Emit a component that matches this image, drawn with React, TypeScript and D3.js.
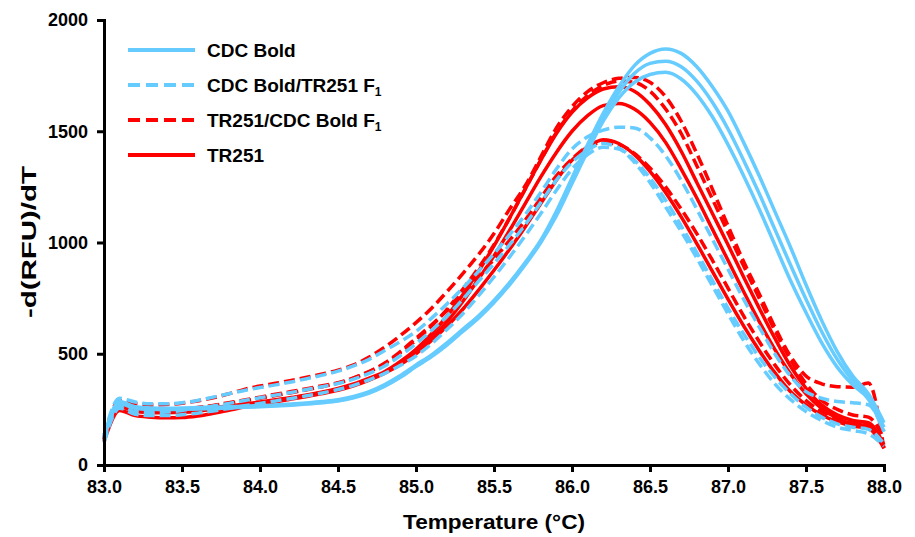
import React, { useEffect, useRef } from 'react';
import * as d3 from 'd3';

// melt curve samples, 83.0 .. 88.0 °C every 0.1
const temps = [
  83.0, 83.1, 83.2, 83.3, 83.4, 83.5, 83.6, 83.7, 83.8, 83.9,
  84.0, 84.1, 84.2, 84.3, 84.4, 84.5, 84.6, 84.7, 84.8, 84.9,
  85.0, 85.1, 85.2, 85.3, 85.4, 85.5, 85.6, 85.7, 85.8, 85.9,
  86.0, 86.1, 86.2, 86.3, 86.4, 86.5, 86.6, 86.7, 86.8, 86.9,
  87.0, 87.1, 87.2, 87.3, 87.4, 87.5, 87.6, 87.7, 87.8, 87.9,
  88.0,
];

// CDC Bold (3 reps)
const cdcBold1 = [130, 285, 262, 256, 255, 256, 258, 260, 262, 264, 267, 270, 274, 279, 285, 293, 308, 330, 362, 402, 450, 495, 550, 610, 670, 740, 820, 910, 1010, 1140, 1290, 1440, 1580, 1700, 1795, 1850, 1870, 1850, 1790, 1700, 1590, 1450, 1300, 1140, 980, 810, 650, 510, 400, 320, 190];
const cdcBold2 = [125, 280, 258, 252, 251, 252, 254, 256, 258, 261, 264, 267, 271, 276, 282, 290, 304, 326, 357, 397, 445, 490, 545, 605, 665, 735, 815, 905, 1005, 1130, 1275, 1425, 1560, 1675, 1760, 1805, 1815, 1790, 1725, 1630, 1510, 1370, 1220, 1060, 900, 745, 600, 475, 380, 305, 170];
const cdcBold3 = [120, 275, 255, 250, 249, 250, 252, 254, 256, 259, 262, 265, 269, 274, 280, 288, 302, 323, 354, 394, 442, 487, 540, 600, 660, 730, 810, 900, 1000, 1120, 1265, 1410, 1545, 1650, 1720, 1755, 1765, 1735, 1665, 1565, 1440, 1300, 1150, 990, 830, 685, 550, 440, 360, 295, 150];

// CDC Bold/TR251 F1
const cdcTrF1a = [135, 300, 283, 275, 275, 280, 290, 305, 320, 335, 348, 360, 373, 388, 404, 422, 445, 475, 515, 555, 600, 660, 725, 795, 870, 950, 1035, 1125, 1225, 1330, 1420, 1475, 1505, 1518, 1515, 1470, 1390, 1280, 1150, 1015, 880, 745, 620, 500, 400, 330, 300, 285, 280, 270, 150];
const cdcTrF1b = [110, 265, 240, 235, 238, 245, 255, 265, 277, 290, 302, 314, 326, 339, 352, 366, 386, 412, 445, 492, 545, 605, 670, 745, 825, 905, 990, 1080, 1180, 1280, 1360, 1415, 1445, 1425, 1370, 1290, 1190, 1075, 955, 830, 705, 590, 485, 395, 320, 260, 215, 185, 170, 160, 95];
const cdcTrF1c = [100, 255, 228, 222, 222, 226, 233, 243, 254, 266, 277, 288, 299, 311, 324, 339, 358, 383, 412, 448, 490, 545, 610, 680, 760, 845, 935, 1030, 1130, 1235, 1330, 1395, 1428, 1420, 1360, 1270, 1160, 1050, 930, 805, 680, 560, 455, 365, 295, 240, 200, 170, 155, 140, 85];

// TR251/CDC Bold F1
const trCdcF1a = [125, 290, 275, 270, 272, 278, 288, 302, 320, 340, 355, 367, 380, 394, 409, 426, 450, 485, 530, 582, 640, 705, 780, 860, 945, 1040, 1150, 1255, 1385, 1515, 1610, 1678, 1718, 1738, 1742, 1720, 1655, 1545, 1400, 1240, 1075, 915, 770, 620, 490, 400, 365, 352, 350, 368, 70];
const trCdcF1b = [115, 270, 250, 245, 245, 250, 258, 268, 280, 292, 305, 318, 330, 343, 356, 370, 392, 420, 455, 505, 560, 625, 700, 790, 885, 990, 1110, 1240, 1370, 1495, 1590, 1660, 1705, 1725, 1720, 1680, 1600, 1490, 1345, 1195, 1045, 895, 750, 605, 475, 365, 290, 250, 225, 215, 120];
const trCdcF1c = [112, 265, 248, 245, 246, 250, 257, 266, 277, 288, 300, 312, 325, 338, 352, 368, 390, 420, 458, 510, 570, 630, 695, 765, 845, 925, 1010, 1100, 1200, 1300, 1375, 1430, 1448, 1440, 1400, 1335, 1250, 1150, 1040, 920, 795, 670, 555, 450, 360, 290, 240, 210, 190, 178, 80];

// TR251
const tr251a = [120, 275, 255, 250, 250, 250, 253, 258, 265, 274, 283, 293, 303, 315, 328, 344, 364, 390, 420, 465, 520, 590, 670, 765, 870, 985, 1110, 1240, 1370, 1490, 1585, 1650, 1690, 1700, 1680, 1620, 1530, 1410, 1270, 1130, 990, 845, 705, 570, 445, 345, 270, 225, 200, 190, 90];
const tr251b = [115, 262, 240, 235, 235, 237, 242, 250, 260, 270, 280, 290, 300, 312, 325, 340, 360, 385, 415, 455, 505, 570, 645, 735, 835, 940, 1055, 1175, 1295, 1405, 1500, 1570, 1615, 1625, 1600, 1540, 1450, 1330, 1200, 1060, 920, 780, 645, 520, 410, 320, 255, 210, 185, 175, 80];
const tr251c = [105, 245, 222, 215, 212, 213, 220, 232, 246, 260, 272, 284, 296, 308, 321, 336, 356, 382, 413, 452, 500, 560, 625, 700, 785, 875, 970, 1070, 1175, 1280, 1370, 1430, 1462, 1445, 1395, 1320, 1225, 1115, 995, 870, 745, 625, 515, 415, 330, 270, 225, 195, 175, 165, 75];

const xTicks = [83.0, 83.5, 84.0, 84.5, 85.0, 85.5, 86.0, 86.5, 87.0, 87.5, 88.0];
const yTicks = [0, 500, 1000, 1500, 2000];

const legendNames = ['CDC Bold', 'CDC Bold/TR251 F', 'TR251/CDC Bold F', 'TR251'];

const App = () => {
  const chartRef = useRef<SVGSVGElement>(null);

  useEffect(() => {
    const svg = d3.select(chartRef.current);
    svg.selectAll('*').remove();

    const font = "'Liberation Sans', Arial, sans-serif";
    const blue = '#66CCFF';
    const red = '#FF0000';

    const x = d3.scaleLinear().domain([83, 88]).range([104, 884]);
    const y = d3.scaleLinear().domain([0, 2000]).range([465, 20]);

    const line = d3.line<number>()
      .x((d, i) => x(temps[i]))
      .y(d => y(d))
      .curve(d3.curveMonotoneX);

    // legend order -> style
    const styles = [
      { color: blue, dash: null },
      { color: blue, dash: '11 5' },
      { color: red, dash: '11 5' },
      { color: red, dash: null },
    ];

    // drawing order: red solid, red dashed, blue dashed, blue solid
    const layers = [
      { s: styles[3], curves: [tr251a, tr251b, tr251c] },
      { s: styles[2], curves: [trCdcF1a, trCdcF1b, trCdcF1c] },
      { s: styles[1], curves: [cdcTrF1a, cdcTrF1b, cdcTrF1c] },
      { s: styles[0], curves: [cdcBold1, cdcBold2, cdcBold3] },
    ];

    const plot = svg.append('g');
    layers.forEach(layer => {
      layer.curves.forEach(c => {
        plot.append('path')
          .datum(c)
          .attr('fill', 'none')
          .attr('stroke', layer.s.color)
          .attr('stroke-width', 3.5)
          .attr('stroke-dasharray', layer.s.dash)
          .attr('stroke-linejoin', 'round')
          .attr('d', line);
      });
    });

    // axes
    const xAxis = svg.append('g')
      .attr('transform', 'translate(0,465)')
      .call(d3.axisBottom(x).tickValues(xTicks).tickFormat(d3.format('.1f'))
        .tickSize(7).tickSizeOuter(0).tickPadding(8));
    const yAxis = svg.append('g')
      .attr('transform', 'translate(104,0)')
      .call(d3.axisLeft(y).tickValues(yTicks).tickFormat(d3.format('d'))
        .tickSize(7).tickSizeOuter(0).tickPadding(9));

    [xAxis, yAxis].forEach(g => {
      g.attr('font-size', 18).attr('font-family', font).attr('font-weight', 'bold');
      g.select('.domain').attr('stroke-width', 3).attr('stroke-linecap', 'square');
      g.selectAll('.tick line').attr('stroke-width', 3);
      g.selectAll('.tick text').attr('fill', '#000');
    });

    // axis titles
    svg.append('text')
      .attr('x', 494).attr('y', 529)
      .attr('text-anchor', 'middle')
      .attr('font-family', font).attr('font-weight', 'bold').attr('font-size', 20)
      .attr('textLength', 182).attr('lengthAdjust', 'spacingAndGlyphs')
      .text('Temperature (°C)');

    svg.append('text')
      .attr('transform', 'translate(36,242) rotate(-90)')
      .attr('text-anchor', 'middle')
      .attr('font-family', font).attr('font-weight', 'bold').attr('font-size', 21)
      .attr('textLength', 152).attr('lengthAdjust', 'spacingAndGlyphs')
      .text('-d(RFU)/dT');

    // legend
    const legendY = d3.scalePoint().domain(legendNames).range([50, 155]);
    legendNames.forEach((name, i) => {
      const ly = legendY(name) as number;
      svg.append('line')
        .attr('x1', 128).attr('x2', 195).attr('y1', ly).attr('y2', ly)
        .attr('stroke', styles[i].color).attr('stroke-width', 4)
        .attr('stroke-dasharray', styles[i].dash ? '12 6' : null);
      const t = svg.append('text')
        .attr('x', 207).attr('y', ly).attr('dy', '0.35em')
        .attr('font-family', font).attr('font-weight', 'bold').attr('font-size', 19)
        .text(name);
      if (i === 1 || i === 2) {
        t.append('tspan').attr('font-size', 12).attr('dy', 4).text('1');
      }
    });
  }, []);

  return (
    <svg ref={chartRef} width={915} height={537}
      style={{ position: 'absolute', left: 0, top: 0, background: '#fff' }} />
  );
};

export default App;
